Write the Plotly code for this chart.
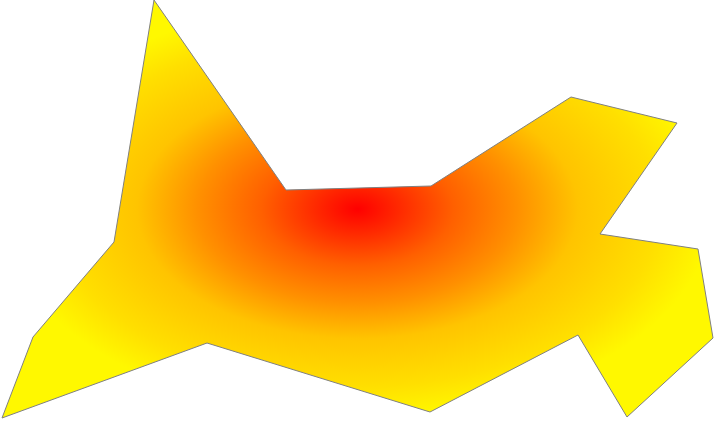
import plotly.graph_objects as go

# polygon vertices (pixel-like units, y measured downward)
xs = [2, 33, 114, 154, 286, 431, 571, 677, 600, 698, 713, 627, 578, 430, 207, 2]
ys = [418, 337, 242, 0, 190, 186, 97, 123, 234, 249, 338, 417, 335, 412, 343, 418]

grad_colors = [
    [0.0, "#ff0000"], [0.12, "#ff2a00"], [0.27, "#ff6000"], [0.45, "#ff9000"],
    [0.62, "#ffc400"], [0.85, "#ffdf00"], [1.0, "#fff800"],
]

fig = go.Figure()
fig.add_trace(go.Scatter(
    x=xs, y=ys, mode="lines", fill="toself",
    line=dict(color="#808080", width=1),
    fillgradient=dict(type="radial", colorscale=grad_colors),
    hoverinfo="skip", showlegend=False,
))
fig.update_layout(
    width=714, height=421,
    margin=dict(l=0, r=0, t=0, b=0),
    paper_bgcolor="white", plot_bgcolor="white",
    xaxis=dict(visible=False, range=[0, 714], fixedrange=True),
    yaxis=dict(visible=False, range=[421, 0], fixedrange=True),
)
fig.write_html("out.html", config={"displayModeBar": False},
               post_script="document.body.style.margin='0';")
